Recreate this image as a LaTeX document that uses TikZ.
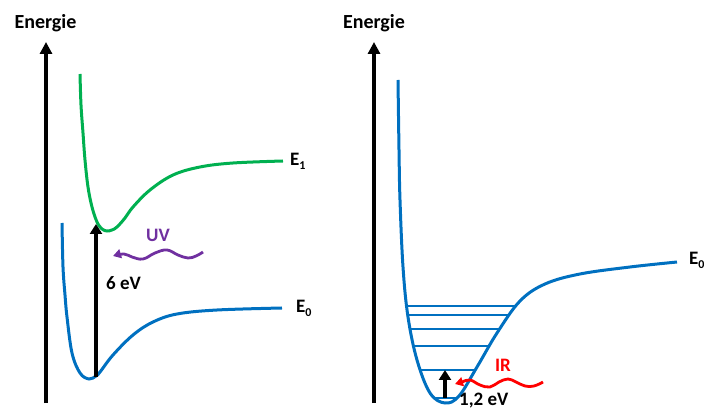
\documentclass[tikz,border=0pt]{standalone}
\usepackage{fontspec}
\setmainfont{Carlito}
\usetikzlibrary{arrows.meta}
\definecolor{cblue}{HTML}{0070C0}
\definecolor{cgreen}{HTML}{00B050}
\definecolor{cpurple}{HTML}{7030A0}
\definecolor{cred}{HTML}{FF0000}
\newcommand\mysub[1]{\raisebox{-3.5pt}{\fontsize{12}{12}\selectfont #1}}
\begin{document}
\begin{tikzpicture}[x=1pt,y=-1pt,
  curve/.style={line width=3pt},
  axisarrow/.style={line width=3.6pt,-{Triangle[length=12pt,width=12pt]}},
  excarrow/.style={line width=3.2pt,-{Triangle[length=10pt,width=12pt]}},
  wavearrow/.style={line width=2.8pt,-{Triangle[length=8pt,width=9pt]}},
  level/.style={cblue,line width=1.2pt},
  lbl/.style={font=\bfseries\fontsize{19}{21}\selectfont,inner sep=0pt},
  ttl/.style={font=\bfseries\fontsize{20}{22}\selectfont,inner sep=0pt}]
\useasboundingbox (0,0) rectangle (704,411);

% ---------- left panel ----------
\node[ttl,anchor=base] (tl) at (45.5,29) {Energie};
\coordinate (la0) at (46,403);
\coordinate (la1) at (46,42);
\draw[axisarrow] (la0) -- (la1);

\draw[curve,cgreen] plot[smooth,tension=0.6] coordinates{
 (80,74) (81,105) (83,133) (85,160) (88,187) (92,207) (97,222) (102,229)
 (107,231) (112,230) (117,227) (125,218) (133,207) (150,190) (173,175)
 (200,167) (233,163) (283,161)};
\draw[curve,cblue] plot[smooth,tension=0.6] coordinates{
 (62,223) (63,267) (65,295) (67,317) (72,353) (80,373) (89,379) (96,376)
 (100,372) (113,355) (133,335) (153,322) (177,314) (217,310) (282,308)};

\node[lbl,anchor=base west] (e1) at (290,166) {E\mysub{1}};
\node[lbl,anchor=base west] (e0) at (296,313) {E\mysub{0}};

\coordinate (x0) at (96,377);
\coordinate (x1) at (96,224);
\draw[excarrow] (x0) -- (x1);
\node[lbl,anchor=base west] (ev6) at (106,290) {6 eV};

\node[lbl,cpurple,anchor=base] (uv) at (158,242) {UV};
\draw[wavearrow,cpurple] plot[smooth,tension=0.7] coordinates{
 (203,252) (196,256) (188,258) (178,255) (167,250) (155,253) (143,259)
 (132,257) (124,254) (113,256)};

% ---------- right panel ----------
\node[ttl,anchor=base] (tr) at (374,29) {Energie};
\coordinate (ra0) at (374,403);
\coordinate (ra1) at (374,42);
\draw[axisarrow] (ra0) -- (ra1);

\def\rightcurve{plot[smooth,tension=0.6] coordinates{
 (398,80) (399,150) (400,200) (403,267) (408,317) (417,360) (430,393)
 (445,403) (459,396) (477,367) (497,333) (520,301) (545,284) (580,274)
 (630,267) (677,262)}}

\begin{scope}
 \clip \rightcurve -- cycle;
 \foreach \yy in {306,315,329,346,370,398}
   \draw[level] (390,\yy) -- (600,\yy);
\end{scope}
\draw[curve,cblue] \rightcurve;

\node[lbl,anchor=base west] (e0r) at (689,265) {E\mysub{0}};

\coordinate (y0) at (445,398);
\coordinate (y1) at (445,370);
\draw[excarrow] (y0) -- (y1);
\node[lbl,anchor=base west] (ev12) at (459,406) {1,2 eV};

\node[lbl,cred,anchor=base] (ir) at (503,372) {IR};
\draw[wavearrow,cred] plot[smooth,tension=0.7] coordinates{
 (543,382) (534,386) (525,386) (516,382) (508,379) (499,382) (490,387)
 (480,385) (470,380) (462,382) (455,384)};
\end{tikzpicture}
\end{document}
